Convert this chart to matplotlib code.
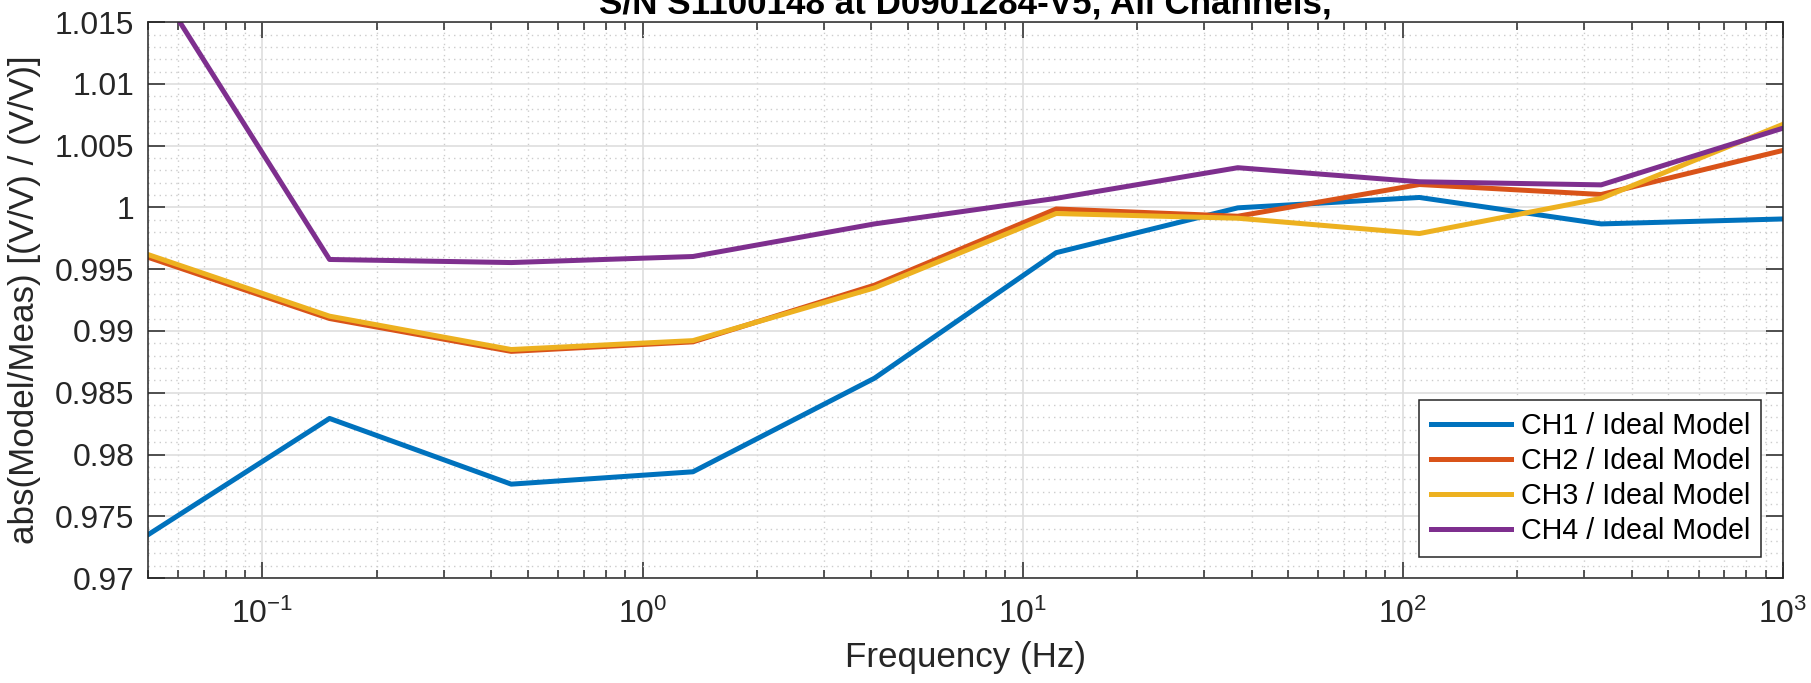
import matplotlib
matplotlib.use('Agg')
import matplotlib.pyplot as plt
from matplotlib.ticker import MultipleLocator, LogLocator, FuncFormatter, NullFormatter

# frequency points (Hz) and model/measurement ratios per channel
freq = [0.05, 0.1502, 0.4514, 1.357, 4.077, 12.25, 36.81, 110.6, 332.6, 1000.0]
ch1 = [0.97350, 0.98292, 0.97760, 0.97860, 0.98618, 0.99634, 0.99997, 1.00081, 0.99867, 0.99907]
ch2 = [0.99597, 0.99101, 0.98835, 0.98912, 0.99371, 0.99988, 0.99929, 1.00186, 1.00105, 1.00462]
ch3 = [0.99619, 0.99120, 0.98850, 0.98922, 0.99349, 0.99951, 0.99913, 0.99789, 1.00074, 1.00673]
ch4 = [1.01910, 0.99579, 0.99554, 0.99603, 0.99867, 1.00074, 1.00322, 1.00208, 1.00183, 1.00642]

labels = ['CH1 / Ideal Model', 'CH2 / Ideal Model', 'CH3 / Ideal Model', 'CH4 / Ideal Model']
colors = ['#0072BD', '#D95319', '#EDB120', '#7E2F8E']

plt.rcParams['font.family'] = ['Liberation Sans', 'DejaVu Sans']
plt.rcParams['mathtext.default'] = 'regular'
plt.rcParams['axes.unicode_minus'] = False
axcol = '#262626'

fig = plt.figure(figsize=(18.11, 6.83), dpi=100)
ax = fig.add_axes([0.0817, 0.1537, 0.9845 - 0.0817, 0.9675 - 0.1537])

for y, c, lab in zip([ch1, ch2, ch3, ch4], colors, labels):
    ax.plot(freq, y, color=c, lw=3.6, label=lab)

ax.set_xscale('log')
ax.set_xlim(0.05, 1000)
ax.set_ylim(0.97, 1.015)
ax.yaxis.set_major_locator(MultipleLocator(0.005))
ax.yaxis.set_minor_locator(MultipleLocator(0.001))
ax.yaxis.set_major_formatter(FuncFormatter(lambda v, p: '%g' % round(v, 4)))
ax.xaxis.set_major_locator(LogLocator(base=10, numticks=20))
ax.xaxis.set_minor_locator(LogLocator(base=10, subs=range(2, 10), numticks=20))
ax.xaxis.set_minor_formatter(NullFormatter())

ax.grid(True, which='major', color='#DEDEDE', lw=1.2, ls='-')
ax.grid(True, which='minor', color='#CCCCCC', lw=1.0, ls=(0, (1, 3)))
ax.set_axisbelow(True)

ax.tick_params(axis='both', which='both', direction='in', top=True, right=True,
               colors=axcol, labelsize=22.9, width=1.1)
ax.tick_params(axis='x', which='major', length=11.5, pad=15)
ax.tick_params(axis='x', which='minor', length=5.8)
ax.tick_params(axis='y', which='major', length=12.5, pad=10)
ax.tick_params(axis='y', which='minor', length=0)
for s in ax.spines.values():
    s.set_color(axcol)
    s.set_linewidth(1.1)

ax.set_xlabel('Frequency (Hz)', fontsize=25.2, color=axcol, labelpad=8)
ax.set_ylabel('abs(Model/Meas) [(V/V) / (V/V)]', fontsize=25.2, color=axcol, labelpad=10)
ax.set_title('S/N S1100148 at D0901284-V5, All Channels,', fontsize=25.2,
             fontweight='bold', pad=6.5)

leg = ax.legend(loc='lower right', fontsize=20.6, fancybox=False, framealpha=1,
                edgecolor=axcol, borderaxespad=0.75, handlelength=2.8,
                handletextpad=0.35, labelspacing=0.25, borderpad=0.4)
leg.get_frame().set_linewidth(1.1)

fig.savefig('out.png', dpi=100)
